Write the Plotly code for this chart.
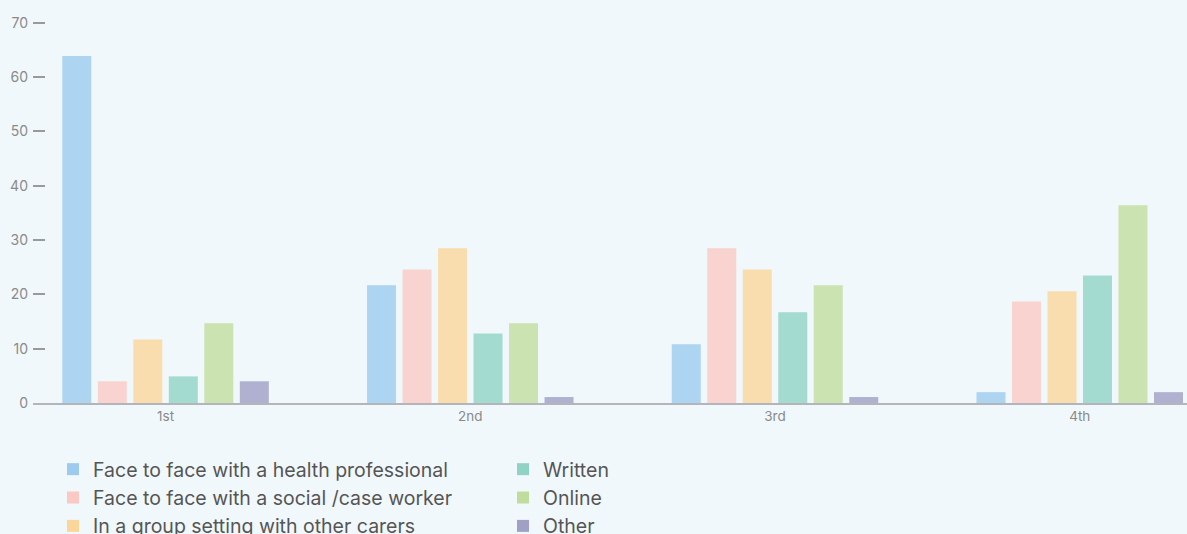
import plotly.graph_objects as go

# Ranking of preferred ways to receive information
ranks = ["1st", "2nd", "3rd", "4th"]

health_professional = [63.9, 21.7, 10.8, 2.0]
social_case_worker = [4.0, 24.6, 28.5, 18.7]
group_setting = [11.7, 28.5, 24.6, 20.6]
written = [4.9, 12.8, 16.7, 23.5]
online = [14.7, 14.7, 21.7, 36.4]
other = [4.0, 1.1, 1.1, 2.0]

series_names = [
    "Face to face with a health professional",
    "Face to face with a social /case worker",
    "In a group setting with other carers",
    "Written",
    "Online",
    "Other",
]
series_values = [health_professional, social_case_worker, group_setting,
                 written, online, other]
series_colors = ["#9ccbee", "#fbc9c4", "#fbd69a", "#90d3c5", "#c1dd9d", "#a09fc6"]
series_legends = ["legend", "legend", "legend", "legend2", "legend2", "legend2"]

BG = "#f1f8fc"
FONT = "Inter"

fig = go.Figure()
for name, vals, col, lg in zip(series_names, series_values, series_colors, series_legends):
    fig.add_trace(go.Bar(
        x=ranks, y=vals, name=name,
        marker=dict(color=col, opacity=0.8, line=dict(width=0)),
        legend=lg,
    ))

legend_style = dict(
    orientation="v",
    font=dict(family=FONT, size=19.5, color="#555555"),
    bgcolor="rgba(0,0,0,0)",
    xref="container",
    yref="container",
    yanchor="top",
    xanchor="left",
    itemclick=False,
    itemdoubleclick=False,
)

fig.update_layout(
    width=1187, height=534,
    margin=dict(l=33, r=0, t=12, b=131, autoexpand=False),
    paper_bgcolor=BG,
    plot_bgcolor=BG,
    barmode="group",
    bargap=0.301,
    bargroupgap=0.183,
    font=dict(family=FONT),
    legend=dict(x=53 / 1187, y=1 - 450 / 534, **legend_style),
    legend2=dict(x=503 / 1187, y=1 - 450 / 534, **legend_style),
    xaxis=dict(
        range=[-0.435, 3.352],
        showline=True, linecolor="#b4b5bb", linewidth=2,
        showgrid=False, zeroline=False,
        ticks="",
        tickfont=dict(family=FONT, size=13.5, color="#8a8a8a"),
    ),
    yaxis=dict(
        range=[0, 72],
        tickvals=[0, 10, 20, 30, 40, 50, 60, 70],
        showgrid=False, zeroline=False, showline=False,
        ticks="inside", ticklen=12, tickwidth=1.5, tickcolor="#9a9a9a",
        ticklabelstandoff=4,
        tickfont=dict(family=FONT, size=14, color="#8a8a8a"),
    ),
)

fig.write_html("out.html")
